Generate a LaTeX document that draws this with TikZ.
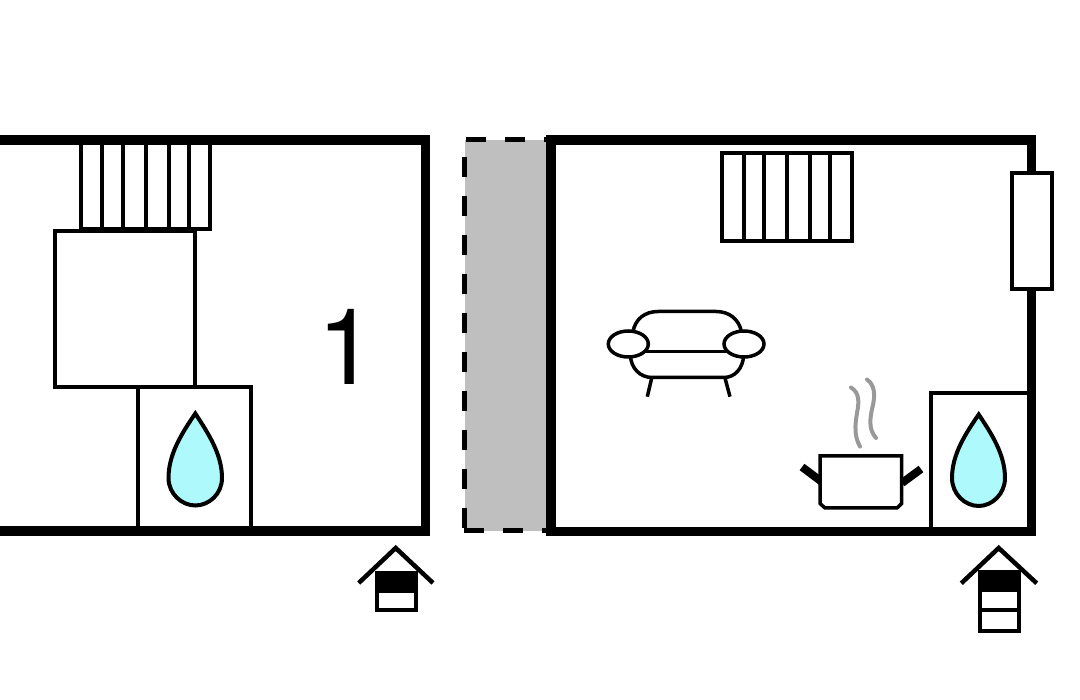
\documentclass[tikz,border=0pt]{standalone}
\usepackage{fontspec}
\setmainfont{TeX Gyre Heros}
\definecolor{waterblue}{HTML}{AEF9FB}
\definecolor{passagegrey}{HTML}{BFBFBF}
\definecolor{steamgrey}{HTML}{999999}
\tikzset{
  wall/.style={line width=9.5pt,line join=miter},
  fitting/.style={line width=4pt,draw=black,fill=white},
  drop/.style={line width=4pt,draw=black,fill=waterblue},
  opening/.style={line width=5pt,dash pattern=on 20pt off 19pt},
  roof/.style={line width=4.5pt},
  sofa/.style={line width=3.5pt,draw=black,fill=white},
  steam/.style={line width=4pt,draw=steamgrey,line cap=round},
}

\begin{document}
\begin{tikzpicture}[x=1pt,y=-1pt]
  \useasboundingbox (0,0) rectangle (1080,700);

  % passage between the two rooms
  \fill[passagegrey] (465,140) rectangle (548,531);
  \draw[opening] (466,140) -- (548,140);
  \draw[opening] (464,531) -- (548,531);
  \draw[opening] (464.5,157) -- (464.5,531);

  % left room
  \draw[fitting,fill=none] (81,140) -- (81,229.5) -- (210.3,229.5) -- (210.3,140)
    (102.3,140) -- (102.3,229.5)
    (123.3,140) -- (123.3,229.5)
    (145.7,140) -- (145.7,229.5)
    (168.7,140) -- (168.7,229.5)
    (189.3,140) -- (189.3,229.5);
  \draw[fitting] (55,231) rectangle (195,387);
  \draw[fitting] (138,531) -- (138,387.5) -- (251.3,387.5) -- (251.3,531);
  \draw[wall] (0,140) -| (425.7,531) -- (0,531);
  \draw[drop] (195.3,413.5) .. controls (182,433) and (168.5,454) .. (168.5,478)
    .. controls (168.5,494) and (182,505.5) .. (195.3,505.5)
    .. controls (209,505.5) and (222,494) .. (222,478)
    .. controls (222,454) and (208,433) .. cycle;
  \node[inner sep=0pt,font=\fontsize{106}{106}\selectfont] (roomno) at (347,347) {1};

  % right room
  \draw[fitting] (930.5,531) -- (930.5,393.5) -- (1031,393.5);
  \draw[wall] (551,140) rectangle (1031.5,531.3);
  \draw[fitting] (722.3,153.3) rectangle (851.7,241.3);
  \draw[fitting,fill=none]
    (743.7,153.3) -- (743.7,241.3)
    (764.3,153.3) -- (764.3,241.3)
    (787,153.3) -- (787,241.3)
    (810,153.3) -- (810,241.3)
    (830.3,153.3) -- (830.3,241.3);
  \draw[fitting] (1012,173) rectangle (1051.7,289.5);
  \draw[drop] (978.7,414.5) .. controls (966,433) and (952,454) .. (952,478)
    .. controls (952,494) and (965,506) .. (978.7,506)
    .. controls (992,506) and (1005,494) .. (1005,478)
    .. controls (1005,454) and (991,433) .. cycle;

  % sofa
  \draw[sofa] (633,332) .. controls (635,319) and (645,311.5) .. (658,311.5) -- (716,311.5)
    .. controls (729,311.5) and (739,319) .. (741.5,332);
  \draw[sofa] (630.5,356) .. controls (631,368) and (640,377.5) .. (652,377.5) -- (724,377.5)
    .. controls (735,377.5) and (743,368) .. (743.5,356);
  \draw[sofa] (646,351.3) -- (727,351.3);
  \draw[sofa] (651.7,378) -- (647.3,396.7);
  \draw[sofa] (725,378) -- (730,396.7);
  \draw[sofa] (628.3,344) ellipse [x radius=20pt,y radius=13pt];
  \draw[sofa] (744,344) ellipse [x radius=20pt,y radius=13pt];

  % pot with steam
  \draw[line width=8pt] (802,467) -- (822,482);
  \draw[line width=8pt] (921,469) -- (902,483);
  \draw[fitting,line width=3.5pt] (820,456) -- (901.7,456) -- (901.7,503.5) -- (897,508)
    -- (825,508) -- (820,503.5) -- cycle;
  \draw[steam] (851,387.5) .. controls (860,393) and (859,403) .. (857,413)
    .. controls (855,425) and (854,436) .. (860,446.5);
  \draw[steam] (867,379.5) .. controls (875,385) and (875,395) .. (873,405)
    .. controls (870,417) and (868,429) .. (876,438);

  % level marks under the rooms
  \draw[roof] (358.7,583) -- (395.7,548) -- (433,583);
  \fill (375,570.7) rectangle (417.7,591.7);
  \draw[fitting,fill=none] (377,591) rectangle (415.7,610);
  \draw[roof] (961.3,583.3) -- (998.7,548) -- (1036.7,583.3);
  \fill (977.7,570) rectangle (1020.7,590);
  \draw[fitting,fill=none] (979.7,590) rectangle (1018.7,631) (979.7,610) -- (1018.7,610);
\end{tikzpicture}
\end{document}
